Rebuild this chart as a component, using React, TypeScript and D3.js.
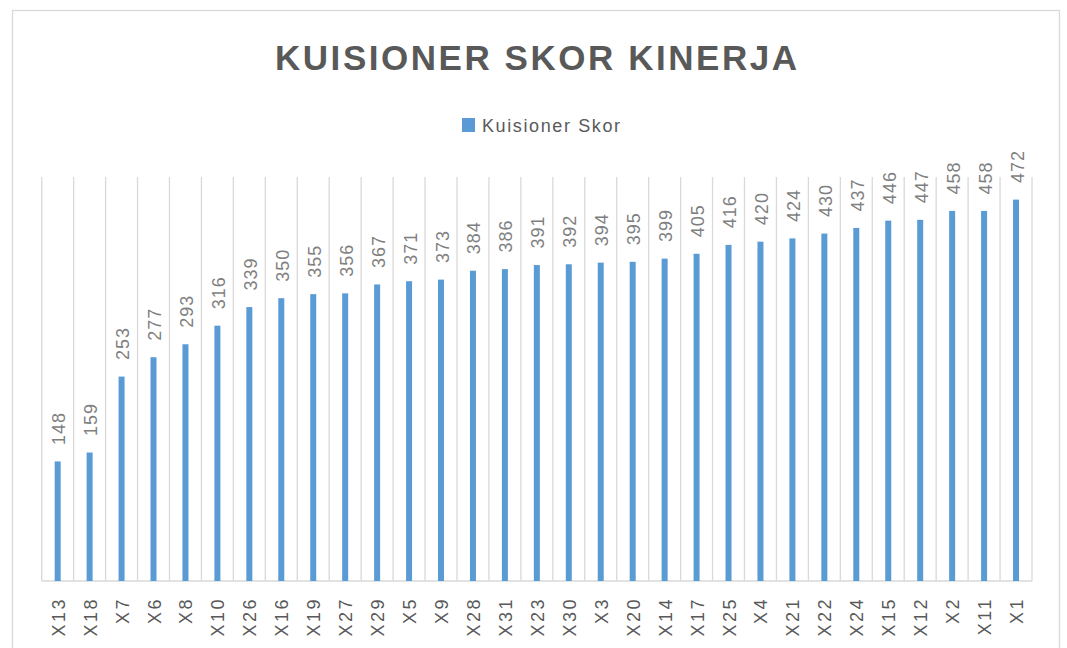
import React from "react";
import * as d3 from "d3";

const categories = ["X13","X18","X7","X6","X8","X10","X26","X16","X19","X27","X29","X5","X9","X28","X31","X23","X30","X3","X20","X14","X17","X25","X4","X21","X22","X24","X15","X12","X2","X11","X1"];
const scores = [148,159,253,277,293,316,339,350,355,356,367,371,373,384,386,391,392,394,395,399,405,416,420,424,430,437,446,447,458,458,472];
const seriesName = "Kuisioner Skor";
const title = "KUISIONER SKOR KINERJA";

const W = 1067, H = 648;
const plotLeft = 41.7, plotRight = 1032, plotTop = 177, plotBottom = 581;
const gridColor = "#d9d9d9";
const barColor = "#5b9bd5";
const textColor = "#595959";
const font = "'Liberation Sans', Arial, sans-serif";

export default function App() {
  const x = d3.scaleBand<string>().domain(categories).range([plotLeft, plotRight]).paddingInner(0).paddingOuter(0);
  const y = d3.scaleLinear().domain([0, 500]).range([plotBottom, plotTop]);
  const bw = 6;
  const bounds = categories.map((c) => x(c) as number).concat([plotRight]);
  return (
    <svg width={W} height={H} style={{ position: "absolute", left: 0, top: 0, background: "#fff" }}>
      <rect x={12.5} y={10.5} width={1047} height={700} fill="#fff" stroke={gridColor} strokeWidth={1.3} />
      <text x={536} y={70} textAnchor="middle" fontFamily={font} fontWeight="bold" fontSize={35} fill={textColor} textLength={522} lengthAdjust="spacing">{title}</text>
      <rect x={462} y={118} width={13} height={14} fill={barColor} />
      <text x={482} y={131.5} fontFamily={font} fontSize={18} fill={textColor} textLength={138} lengthAdjust="spacing">{seriesName}</text>
      {bounds.map((bx, i) => (
        <line key={"g" + i} x1={bx} x2={bx} y1={plotTop} y2={plotBottom} stroke={gridColor} strokeWidth={1.3} />
      ))}
      <line x1={plotLeft} x2={plotRight} y1={plotBottom} y2={plotBottom} stroke={gridColor} strokeWidth={1.5} />
      {categories.map((c, i) => {
        const cx = (x(c) as number) + x.bandwidth() / 2;
        const top = y(scores[i]);
        return (
          <g key={c}>
            <rect x={cx - bw / 2} y={top} width={bw} height={y(0) - top} fill={barColor} />
            <text transform={`translate(${cx + 7.5},${top - 16.5}) rotate(-90)`} fontFamily={font} fontSize={18} fill="#7f7f7f" letterSpacing={1}>{scores[i]}</text>
            <text transform={`translate(${cx + 7},${597}) rotate(-90)`} textAnchor="end" fontFamily={font} fontSize={18} fill={textColor} letterSpacing={2.5}>{c}</text>
          </g>
        );
      })}
    </svg>
  );
}
